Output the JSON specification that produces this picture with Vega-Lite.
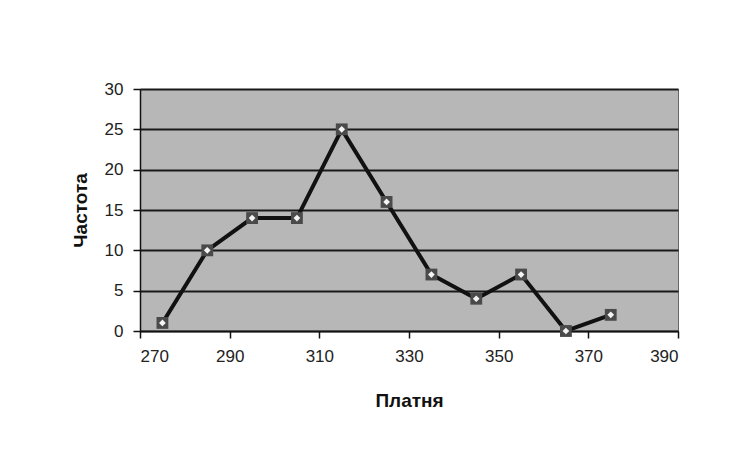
{
  "$schema": "https://vega.github.io/schema/vega-lite/v6.json",
  "width": 538,
  "height": 242,
  "padding": {"left": 140, "top": 89, "right": 67, "bottom": 128},
  "autosize": {"type": "none"},
  "background": "#ffffff",
  "config": {
    "view": {"fill": "#b7b7b7", "stroke": "#666666", "strokeWidth": 1},
    "font": "Liberation Sans",
    "axis": {
      "labelFont": "Liberation Sans",
      "labelFontSize": 17,
      "labelColor": "#222222",
      "titleFont": "Liberation Sans",
      "titleFontSize": 19,
      "titleFontWeight": "bold",
      "titleColor": "#111111",
      "domainColor": "#111111",
      "tickColor": "#111111",
      "tickSize": 7,
      "tickWidth": 1.5,
      "domainWidth": 1.5
    }
  },
  "data": {
    "values": [
      {"x": 275, "y": 1},
      {"x": 285, "y": 10},
      {"x": 295, "y": 14},
      {"x": 305, "y": 14},
      {"x": 315, "y": 25},
      {"x": 325, "y": 16},
      {"x": 335, "y": 7},
      {"x": 345, "y": 4},
      {"x": 355, "y": 7},
      {"x": 365, "y": 0},
      {"x": 375, "y": 2}
    ]
  },
  "encoding": {
    "x": {
      "field": "x",
      "type": "quantitative",
      "scale": {"domain": [270, 390], "nice": false},
      "axis": {"values": [270, 290, 310, 330, 350, 370, 390], "grid": false, "title": "Платня", "titlePadding": 27, "labelPadding": 10}
    },
    "y": {
      "field": "y",
      "type": "quantitative",
      "scale": {"domain": [0, 30], "nice": false},
      "axis": {"values": [0, 5, 10, 15, 20, 25, 30], "grid": true, "gridColor": "#1a1a1a", "gridWidth": 2, "gridOpacity": 1, "title": "Частота", "titlePadding": 14, "labelPadding": 10}
    }
  },
  "layer": [
    {"mark": {"type": "line", "color": "#111111", "strokeWidth": 4}},
    {"mark": {"type": "point", "shape": "square", "filled": true, "color": "#4a4a4a", "size": 140, "opacity": 1}},
    {"mark": {"type": "point", "shape": "diamond", "filled": true, "color": "#f4f4f4", "size": 45, "opacity": 1}}
  ]
}
